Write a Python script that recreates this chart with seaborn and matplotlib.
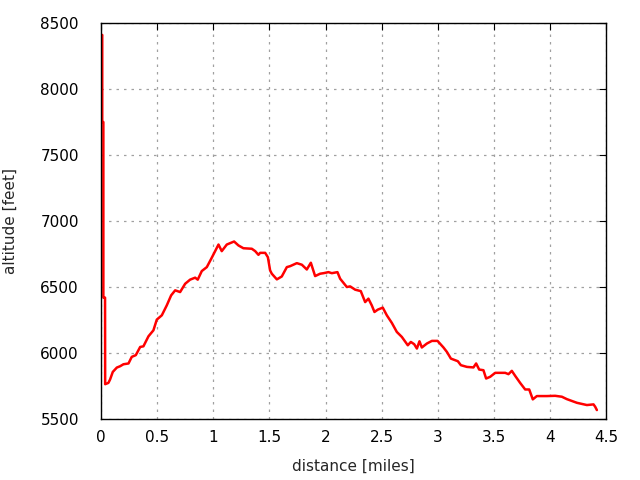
import pandas as pd
import matplotlib
matplotlib.use("Agg")
import matplotlib.pyplot as plt
import seaborn as sns

# distance [miles] and altitude [feet]
distance = [0.0, 0.01, 0.01, 0.02, 0.02, 0.035, 0.036, 0.065, 0.08, 0.104, 0.14,
            0.169, 0.199, 0.244, 0.273, 0.309, 0.348, 0.377, 0.422, 0.466, 0.496,
            0.541, 0.585, 0.624, 0.66, 0.704, 0.749, 0.793, 0.838, 0.861, 0.897,
            0.942, 0.986, 1.046, 1.075, 1.12, 1.185, 1.224, 1.268, 1.343, 1.373,
            1.402, 1.417, 1.462, 1.486, 1.506, 1.521, 1.566, 1.61, 1.655, 1.684,
            1.744, 1.789, 1.833, 1.869, 1.907, 1.952, 1.982, 2.026, 2.056, 2.106,
            2.13, 2.19, 2.219, 2.264, 2.314, 2.353, 2.382, 2.412, 2.436, 2.466,
            2.51, 2.546, 2.591, 2.635, 2.68, 2.733, 2.76, 2.79, 2.814, 2.837,
            2.858, 2.903, 2.948, 2.998, 3.051, 3.081, 3.117, 3.179, 3.206, 3.26,
            3.318, 3.342, 3.369, 3.407, 3.431, 3.467, 3.512, 3.601, 3.63, 3.66,
            3.69, 3.734, 3.779, 3.815, 3.847, 3.883, 3.972, 4.046, 4.106, 4.15,
            4.24, 4.329, 4.388, 4.403, 4.418]
altitude = [8400, 8410, 7750, 7750, 6420, 6420, 5764, 5774, 5800, 5857, 5890,
            5900, 5915, 5921, 5971, 5984, 6046, 6051, 6127, 6172, 6253,
            6286, 6361, 6437, 6475, 6462, 6525, 6556, 6571, 6556, 6621,
            6651, 6722, 6822, 6772, 6822, 6845, 6815, 6794, 6790, 6772,
            6744, 6759, 6759, 6726, 6626, 6601, 6558, 6580, 6651, 6658,
            6681, 6669, 6633, 6684, 6583, 6601, 6605, 6613, 6605, 6613,
            6563, 6500, 6505, 6480, 6469, 6386, 6412, 6361, 6311, 6329,
            6344, 6286, 6228, 6160, 6122, 6059, 6084, 6067, 6034, 6089,
            6042, 6072, 6092, 6092, 6042, 6009, 5958, 5938, 5908, 5895,
            5891, 5921, 5875, 5870, 5807, 5820, 5850, 5850, 5840, 5865,
            5827, 5774, 5724, 5724, 5649, 5674, 5674, 5676, 5669, 5651,
            5623, 5606, 5611, 5593, 5568]

df = pd.DataFrame({"distance": distance, "altitude": altitude})

sns.set_style("white")
plt.rcParams['font.family'] = ['DejaVu Sans']

fig = plt.figure(figsize=(6.4, 4.8), dpi=100)
ax = fig.add_axes([0.158, 0.127, 0.789, 0.825])

sns.lineplot(data=df, x="distance", y="altitude", sort=False, estimator=None,
             color="red", linewidth=1.8, ax=ax)

ax.set_xlim(0, 4.5)
ax.set_ylim(5500, 8500)
ax.set_xticks([0, 0.5, 1, 1.5, 2, 2.5, 3, 3.5, 4, 4.5])
ax.set_xticklabels(["0", "0.5", "1", "1.5", "2", "2.5", "3", "3.5", "4", "4.5"])
ax.set_yticks(range(5500, 8501, 500))

# gnuplot look: dotted grey grid, inward ticks on all four sides
ax.grid(True, color="#a0a0a0", linestyle=(0, (2, 4)), linewidth=0.9)
ax.tick_params(direction="in", length=5, width=0.8, top=True, right=True,
               labelsize=11, colors="black", pad=8)
ax.tick_params(axis="y", pad=16)
for s in ax.spines.values():
    s.set_color("black")
    s.set_linewidth(1.0)

ax.set_xlabel("distance [miles]", fontsize=11, labelpad=10)
ax.set_ylabel("altitude [feet]", fontsize=11, labelpad=16)

fig.savefig("out.png", dpi=100)
